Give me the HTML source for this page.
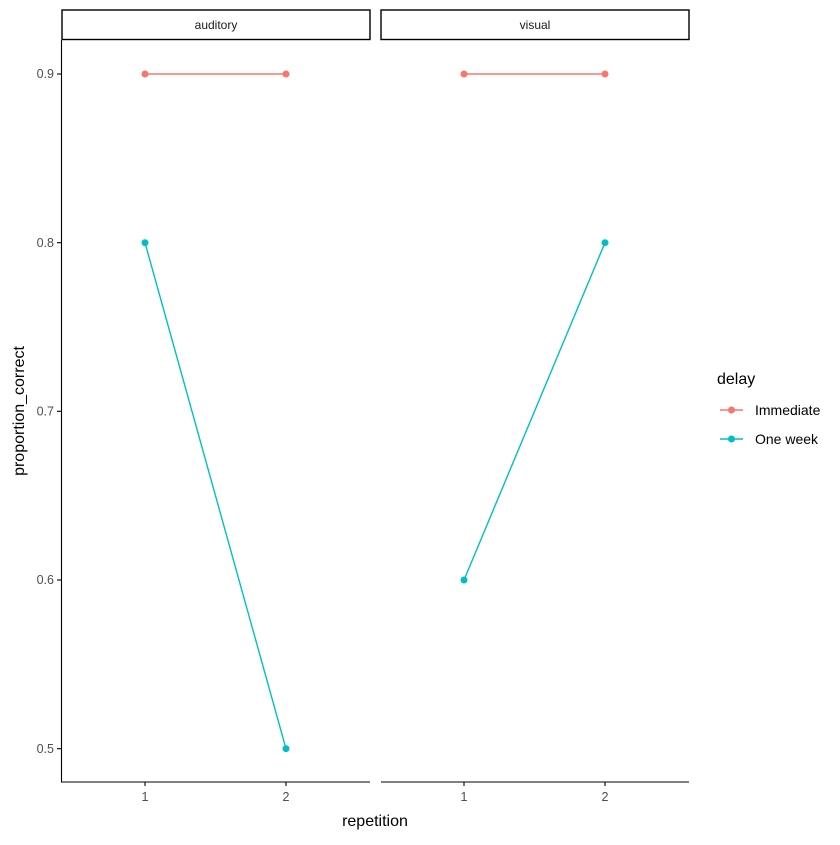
<!DOCTYPE html>
<html><head><style>body{margin:0;background:#fff}</style></head><body>
<svg width="840" height="840" xmlns="http://www.w3.org/2000/svg" font-family="Liberation Sans, sans-serif">
<rect width="840" height="840" fill="#fff"/>
<rect x="62" y="10" width="308" height="29.5" fill="#fff" stroke="#000" stroke-width="1.4"/>
<rect x="381" y="10" width="308" height="29.5" fill="#fff" stroke="#000" stroke-width="1.4"/>
<text x="216" y="29" font-size="12" text-anchor="middle" fill="#1a1a1a">auditory</text>
<text x="535" y="29" font-size="12" text-anchor="middle" fill="#1a1a1a">visual</text>
<g stroke="#000" stroke-width="1.1" fill="none">
<line x1="61.5" y1="40" x2="61.5" y2="782"/>
<line x1="61" y1="782" x2="370" y2="782"/>
<line x1="381" y1="782" x2="689" y2="782"/>
<line x1="57" y1="74" x2="61" y2="74"/>
<line x1="57" y1="242.7" x2="61" y2="242.7"/>
<line x1="57" y1="411.3" x2="61" y2="411.3"/>
<line x1="57" y1="580" x2="61" y2="580"/>
<line x1="57" y1="748.7" x2="61" y2="748.7"/>
<line x1="145" y1="782" x2="145" y2="786"/>
<line x1="286" y1="782" x2="286" y2="786"/>
<line x1="464" y1="782" x2="464" y2="786"/>
<line x1="605" y1="782" x2="605" y2="786"/>
</g>
<g font-size="12.5" fill="#4d4d4d" text-anchor="end">
<text x="54" y="78">0.9</text>
<text x="54" y="247">0.8</text>
<text x="54" y="415.5">0.7</text>
<text x="54" y="584">0.6</text>
<text x="54" y="753">0.5</text>
</g>
<g font-size="12.5" fill="#4d4d4d" text-anchor="middle">
<text x="145" y="801">1</text><text x="286" y="801">2</text>
<text x="464" y="801">1</text><text x="605" y="801">2</text>
</g>
<text x="375" y="826" font-size="16" text-anchor="middle">repetition</text>
<text transform="translate(24,411) rotate(-90)" font-size="16" text-anchor="middle">proportion_correct</text>
<g stroke-width="1.4">
<line x1="145" y1="74" x2="286" y2="74" stroke="#F8766D"/>
<line x1="464" y1="74" x2="605" y2="74" stroke="#F8766D"/>
<line x1="145" y1="242.7" x2="286" y2="748.7" stroke="#00BFC4"/>
<line x1="464" y1="580" x2="605" y2="242.7" stroke="#00BFC4"/>
</g>
<g fill="#F8766D"><circle cx="145" cy="74" r="3.5"/><circle cx="286" cy="74" r="3.5"/><circle cx="464" cy="74" r="3.5"/><circle cx="605" cy="74" r="3.5"/></g>
<g fill="#00BFC4"><circle cx="145" cy="242.7" r="3.5"/><circle cx="286" cy="748.7" r="3.5"/><circle cx="464" cy="580" r="3.5"/><circle cx="605" cy="242.7" r="3.5"/></g>
<text x="717" y="384" font-size="16">delay</text>
<line x1="720" y1="410" x2="743" y2="410" stroke="#F8766D" stroke-width="1.4"/>
<circle cx="731.5" cy="410" r="3.5" fill="#F8766D"/>
<line x1="720" y1="439" x2="743" y2="439" stroke="#00BFC4" stroke-width="1.4"/>
<circle cx="731.5" cy="439" r="3.5" fill="#00BFC4"/>
<text x="755" y="415" font-size="14">Immediate</text>
<text x="755" y="444" font-size="14">One week</text>
</svg>
</body></html>
